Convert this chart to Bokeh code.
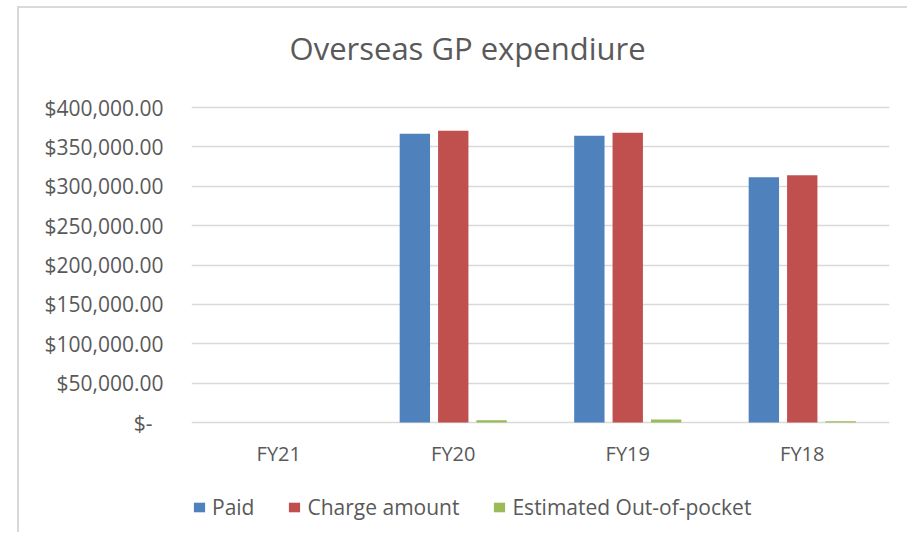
from bokeh.plotting import figure
from bokeh.models import (ColumnDataSource, FactorRange, Range1d, FixedTicker, Label,
                          Legend, LegendItem)
from bokeh.transform import dodge
from bokeh.embed import file_html
from bokeh.resources import INLINE

# ---- data ----
categories = ["FY21", "FY20", "FY19", "FY18"]
paid = [0, 366600, 364000, 311500]
charge_amount = [0, 370400, 368000, 314000]
out_of_pocket = [0, 2900, 3800, 1700]
series_names = ["Paid", "Charge amount", "Estimated Out-of-pocket"]
y_ticks = [0, 50000, 100000, 150000, 200000, 250000, 300000, 350000, 400000]
y_tick_labels = ["$-\u00a0\u00a0", "$50,000.00", "$100,000.00", "$150,000.00", "$200,000.00",
                 "$250,000.00", "$300,000.00", "$350,000.00", "$400,000.00"]
title_text = "Overseas GP expendiure"

FONT = "Open Sans"
TXT = "#595959"
colors = ["#4f81bd", "#c0504d", "#9bbb59"]

# layout (screen pixels on the canvas)
W, H = 890, 526
LEFT, RIGHT = 172, 20
PX_TOP_TICK, PX_ZERO = 99, 414          # where the 400k gridline and the 0 baseline sit
top_tick = y_ticks[-1]
per_px = top_tick / (PX_ZERO - PX_TOP_TICK)
y_start = -(H - PX_ZERO) * per_px
y_end = top_tick + PX_TOP_TICK * per_px

src = ColumnDataSource(dict(cat=categories, paid=paid, charge=charge_amount, oop=out_of_pocket))

p = figure(width=W, height=H, output_backend="svg", toolbar_location=None,
           x_range=FactorRange(*categories, range_padding=0), y_range=Range1d(y_start, y_end),
           min_border_left=LEFT, min_border_right=RIGHT, min_border_top=0, min_border_bottom=0,
           outline_line_color=None, background_fill_color="white", border_fill_color="white")
p.styles = {"margin-top": "6px", "margin-left": "17px",
            "border-top": "2px solid #d9d9d9", "border-left": "2px solid #d9d9d9"}

w = 0.174
off = 0.22
r1 = p.vbar(x=dodge("cat", -off, range=p.x_range), top="paid", width=w, source=src,
            fill_color=colors[0], line_color=None)
r2 = p.vbar(x=dodge("cat", 0.0, range=p.x_range), top="charge", width=w, source=src,
            fill_color=colors[1], line_color=None)
r3 = p.vbar(x=dodge("cat", off, range=p.x_range), top="oop", width=w, source=src,
            fill_color=colors[2], line_color=None)

# axes
p.yaxis.ticker = FixedTicker(ticks=y_ticks)
p.yaxis.major_label_overrides = {t: l for t, l in zip(y_ticks, y_tick_labels)}
p.yaxis.axis_line_color = None
p.yaxis.major_tick_line_color = None
p.yaxis.minor_tick_line_color = None
p.yaxis.major_tick_out = 0
p.yaxis.major_label_standoff = 28
p.yaxis.major_label_text_font = FONT
p.yaxis.major_label_text_font_size = "21px"
p.yaxis.major_label_text_color = TXT

p.xaxis.fixed_location = 0
p.xaxis.axis_line_color = None
p.xaxis.major_tick_line_color = None
p.xaxis.major_tick_out = 0
p.xaxis.major_tick_in = 0
p.xaxis.major_label_standoff = 17
p.xaxis.major_label_text_font = FONT
p.xaxis.major_label_text_font_size = "20px"
p.xaxis.major_label_text_color = TXT

p.xgrid.grid_line_color = None
p.ygrid.ticker = FixedTicker(ticks=y_ticks)
p.ygrid.grid_line_color = "#d9d9d9"
p.ygrid.grid_line_width = 1.5

# title
title_baseline_px = 39
p.add_layout(Label(x=1.582, y=y_end - title_baseline_px * per_px, text=title_text,
                   text_align="center", text_baseline="alphabetic", text_font=FONT,
                   text_font_size="31px", text_color=TXT))

# legend
legend = Legend(items=[LegendItem(label=series_names[0], renderers=[r1]),
                       LegendItem(label=series_names[1], renderers=[r2]),
                       LegendItem(label=series_names[2], renderers=[r3])],
                location=(1, 13), orientation="horizontal",
                glyph_width=14, glyph_height=12, label_standoff=6, spacing=33,
                padding=0, margin=0, border_line_color=None, background_fill_alpha=0,
                label_text_font=FONT, label_text_font_size="21px", label_text_color=TXT)
p.add_layout(legend, "center")

open("out.html", "w").write(file_html(p, INLINE))
